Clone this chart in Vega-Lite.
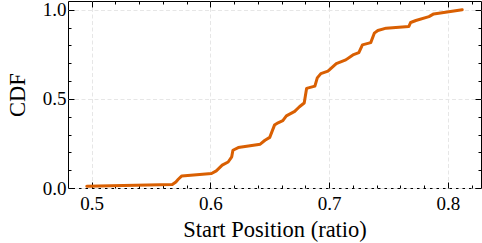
{
  "$schema": "https://vega.github.io/schema/vega-lite/v6.json",
  "width": 413,
  "height": 187,
  "autosize": {"type": "none"},
  "padding": {"left": 68, "top": 1, "right": 1, "bottom": 55},
  "background": "white",
  "config": {
    "view": {"stroke": "black", "strokeWidth": 1},
    "font": "Liberation Serif",
    "axis": {
      "domain": false,
      "labelColor": "black",
      "tickColor": "black",
      "tickWidth": 1,
      "titleFontWeight": "normal",
      "titleColor": "black",
      "gridColor": "#e6e6e6",
      "gridDash": [4, 2.5],
      "gridWidth": 1
    }
  },
  "data": {
    "values": [
      {"x": 0.496, "y": 0.010},
      {"x": 0.568, "y": 0.020},
      {"x": 0.571, "y": 0.034},
      {"x": 0.573, "y": 0.049},
      {"x": 0.576, "y": 0.068},
      {"x": 0.601, "y": 0.081},
      {"x": 0.605, "y": 0.096},
      {"x": 0.610, "y": 0.128},
      {"x": 0.615, "y": 0.146},
      {"x": 0.618, "y": 0.175},
      {"x": 0.619, "y": 0.212},
      {"x": 0.6235, "y": 0.227},
      {"x": 0.642, "y": 0.246},
      {"x": 0.646, "y": 0.268},
      {"x": 0.650, "y": 0.284},
      {"x": 0.654, "y": 0.353},
      {"x": 0.657, "y": 0.366},
      {"x": 0.661, "y": 0.378},
      {"x": 0.664, "y": 0.405},
      {"x": 0.671, "y": 0.430},
      {"x": 0.675, "y": 0.456},
      {"x": 0.679, "y": 0.477},
      {"x": 0.681, "y": 0.559},
      {"x": 0.688, "y": 0.572},
      {"x": 0.690, "y": 0.618},
      {"x": 0.693, "y": 0.642},
      {"x": 0.699, "y": 0.656},
      {"x": 0.706, "y": 0.698},
      {"x": 0.714, "y": 0.719},
      {"x": 0.720, "y": 0.747},
      {"x": 0.725, "y": 0.760},
      {"x": 0.728, "y": 0.803},
      {"x": 0.735, "y": 0.816},
      {"x": 0.738, "y": 0.869},
      {"x": 0.741, "y": 0.884},
      {"x": 0.748, "y": 0.897},
      {"x": 0.767, "y": 0.906},
      {"x": 0.7686, "y": 0.929},
      {"x": 0.773, "y": 0.940},
      {"x": 0.784, "y": 0.962},
      {"x": 0.788, "y": 0.977},
      {"x": 0.812, "y": 1.0}
    ]
  },
  "resolve": {"axis": {"x": "independent", "y": "independent"}},
  "layer": [
    {
      "mark": {"type": "line", "color": "#d95f02", "strokeWidth": 3, "strokeCap": "round", "strokeJoin": "round"},
      "encoding": {
        "x": {"field": "x", "type": "quantitative", "scale": {"domain": [0.4802, 0.8278], "nice": false, "zero": false},
          "axis": {"orient": "bottom", "values": [0.5, 0.6, 0.7, 0.8], "format": ".1f", "grid": true, "tickSize": -6, "labelPadding": 12, "labelFont": "Liberation Serif", "labelFontSize": 19, "title": "Start Position (ratio)", "titleFont": "Liberation Serif", "titleFontSize": 22.5, "titlePadding": 5}},
        "y": {"field": "y", "type": "quantitative", "scale": {"domain": [0, 1.0495], "nice": false, "zero": false},
          "axis": {"orient": "left", "values": [0, 0.5, 1], "format": ".1f", "grid": true, "tickSize": -6, "labelPadding": 8, "labelFont": "Liberation Serif", "labelFontSize": 19, "title": "CDF", "titleFont": "Liberation Serif", "titleFontSize": 22.5, "titlePadding": 13}}
      }
    },
    {
      "mark": {"type": "line", "strokeOpacity": 0},
      "encoding": {
        "x": {"field": "x", "type": "quantitative",
          "axis": {"orient": "bottom", "values": [0.52, 0.54, 0.56, 0.58, 0.62, 0.64, 0.66, 0.68, 0.72, 0.74, 0.76, 0.78, 0.82], "labels": false, "grid": false, "title": null, "tickSize": -3}},
        "y": {"field": "y", "type": "quantitative",
          "axis": {"orient": "left", "values": [0.1, 0.2, 0.3, 0.4, 0.6, 0.7, 0.8, 0.9], "labels": false, "grid": false, "title": null, "tickSize": -3}}
      }
    },
    {
      "mark": {"type": "line", "strokeOpacity": 0},
      "encoding": {
        "x": {"field": "x", "type": "quantitative",
          "axis": {"orient": "top", "values": [0.5, 0.6, 0.7, 0.8], "labels": false, "grid": false, "title": null, "tickSize": -6}},
        "y": {"field": "y", "type": "quantitative",
          "axis": {"orient": "right", "values": [0, 0.5, 1], "labels": false, "grid": false, "title": null, "tickSize": -6}}
      }
    },
    {
      "mark": {"type": "line", "strokeOpacity": 0},
      "encoding": {
        "x": {"field": "x", "type": "quantitative",
          "axis": {"orient": "top", "values": [0.52, 0.54, 0.56, 0.58, 0.62, 0.64, 0.66, 0.68, 0.72, 0.74, 0.76, 0.78, 0.82], "labels": false, "grid": false, "title": null, "tickSize": -3}},
        "y": {"field": "y", "type": "quantitative",
          "axis": {"orient": "right", "values": [0.1, 0.2, 0.3, 0.4, 0.6, 0.7, 0.8, 0.9], "labels": false, "grid": false, "title": null, "tickSize": -3}}
      }
    }
  ]
}
